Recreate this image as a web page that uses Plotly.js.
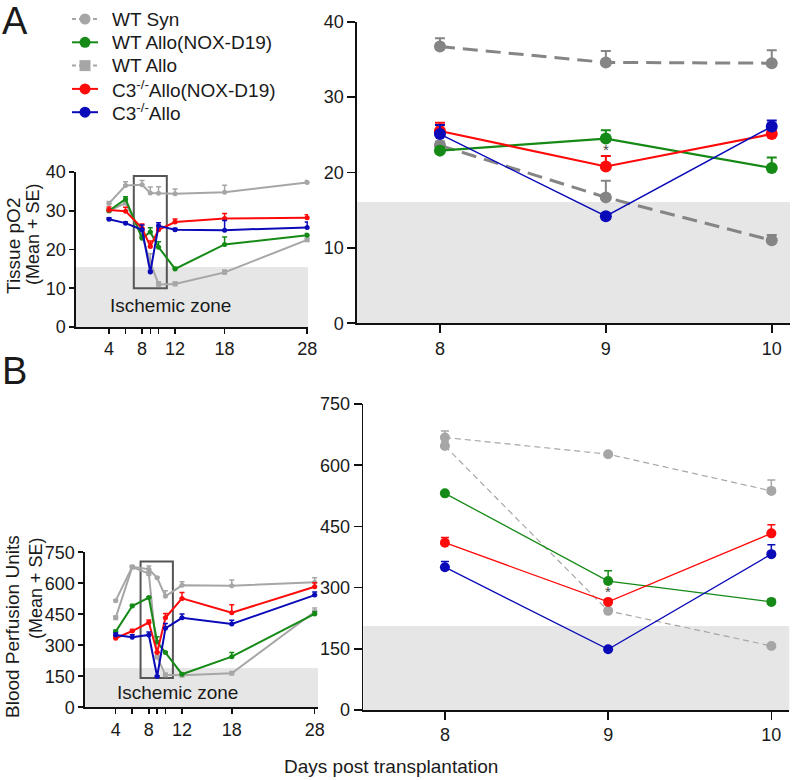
<!DOCTYPE html>
<html>
<head>
<meta charset="utf-8">
<script src="https://cdn.plot.ly/plotly-3.0.1.min.js"></script>
<style>html,body{margin:0;padding:0;background:#fff;}#chart{width:796px;height:780px;}</style>
</head>
<body>
<div id="chart"></div>
<script>
// ---- Data ----
const days = [4, 6, 8, 9, 10, 12, 18, 28];
const labeledDays = [4, 8, 12, 18, 28];
const zoomDays = [8, 9, 10];
const seriesNames = ['WT Syn', 'WT Allo(NOX-D19)', 'WT Allo', 'C3<sup>-/-</sup>Allo(NOX-D19)', 'C3<sup>-/-</sup>Allo'];

// Panel A: Tissue pO2
const wtSynA      = [31.9, 36.5, 36.7, 34.6, 34.5, 34.4, 34.8, 37.3];
const wtSynA_se   = [0.5, 1.0, 1.1, 1.5, 1.7, 1.2, 1.8, 0.5];
const wtAlloA     = [30.0, 32.0, 23.6, 16.7, 11.0, 11.1, 14.1, 22.5];
const wtAlloA_se  = [0.6, 0.8, 0.5, 2.2, 0.7, 0.5, 0.6, 0.4];
const noxA        = [30.0, 33.0, 22.9, 24.5, 20.6, 15.0, 21.3, 23.7];
const noxA_se     = [0.4, 0.6, 0.4, 1.1, 1.4, 0.4, 1.9, 0.4];
const c3noxA      = [30.2, 29.9, 25.5, 20.8, 25.1, 27.1, 28.0, 28.2];
const c3noxA_se   = [0.8, 1.0, 1.1, 1.4, 0.4, 0.8, 1.3, 0.8];
const c3A         = [27.8, 26.8, 25.1, 14.2, 26.1, 25.1, 25.0, 25.7];
const c3A_se      = [0.4, 0.3, 1.2, 0.4, 0.8, 0.4, 2.5, 1.4];

// Panel B: Blood perfusion units
const wtSynB      = [516, 680, 668, 627, 537, 590, 588, 605];
const wtSynB_se   = [5, 5, 16, 4, 27, 18, 28, 22];
const wtAlloB     = [433, 678, 647, 243, 157, 155, 165, 462];
const wtAlloB_se  = [8, 5, 10, 4, 4, 4, 4, 18];
const noxB        = [366, 490, 531, 316, 265, 160, 245, 452];
const noxB_se     = [8, 8, 4, 25, 4, 4, 20, 10];
const c3noxB      = [334, 369, 410, 265, 433, 527, 458, 583];
const c3noxB_se   = [8, 8, 13, 4, 21, 28, 38, 20];
const c3B         = [350, 339, 350, 149, 382, 433, 403, 543];
const c3B_se      = [10, 12, 14, 4, 23, 18, 18, 15];

const ischemicA_small = 15.5, ischemicA_zoom = 16.1;
const ischemicB_small = 190, ischemicB_zoom = 206;

// ---- Styles ----
const FONT = 'Arial, "Liberation Sans", Helvetica, sans-serif';
const GRAY_L = '#a6a6a6', GRAY_D = '#858585';
const GREEN = '#168a16', RED = '#ff0a0a', BLUE = '#0a0ab8';
const TXT = '#1a1a1a';

const zIdx = zoomDays.map(d => days.indexOf(d));
const sub = arr => zIdx.map(i => arr[i]);
const zeros = n => new Array(n).fill(0);

const traces = [];

function smallSet(xa, ya, list) {
  list.forEach(s => traces.push({
    type: 'scatter', mode: 'lines+markers', x: days, y: s.y, xaxis: xa, yaxis: ya,
    showlegend: false, hoverinfo: 'skip', cliponaxis: false,
    line: {color: s.color, width: 2},
    marker: {color: s.color, size: 5, symbol: s.symbol || 'circle'},
    error_y: {type: 'data', symmetric: false, array: s.se, arrayminus: zeros(s.se.length),
              color: s.color, thickness: 1.5, width: 2.5}
  }));
}
function zoomSet(xa, ya, list, opt) {
  list.forEach(s => traces.push({
    type: 'scatter', mode: 'lines+markers', x: zoomDays, y: sub(s.y), xaxis: xa, yaxis: ya,
    showlegend: false, hoverinfo: 'skip', cliponaxis: false,
    line: {color: s.color, width: s.width, dash: s.dash || 'solid'},
    marker: {color: s.color, size: opt.msize, symbol: 'circle'},
    error_y: {type: 'data', symmetric: false, array: sub(s.se), arrayminus: zeros(3),
              color: s.color, thickness: opt.ethick, width: opt.ewidth}
  }));
}

smallSet('x', 'y', [
  {y: wtSynA, se: wtSynA_se, color: GRAY_L},
  {y: wtAlloA, se: wtAlloA_se, color: GRAY_L, symbol: 'square'},
  {y: noxA, se: noxA_se, color: GREEN},
  {y: c3noxA, se: c3noxA_se, color: RED},
  {y: c3A, se: c3A_se, color: BLUE}
]);
zoomSet('x2', 'y2', [
  {y: wtSynA, se: wtSynA_se, color: GRAY_D, width: 3, dash: '15px,8px'},
  {y: wtAlloA, se: wtAlloA_se, color: GRAY_D, width: 3, dash: '15px,8px'},
  {y: noxA, se: noxA_se, color: GREEN, width: 2.2},
  {y: c3noxA, se: c3noxA_se, color: RED, width: 2.2},
  {y: c3A, se: c3A_se, color: BLUE, width: 1.5}
], {msize: 12, ethick: 2, ewidth: 5});
smallSet('x3', 'y3', [
  {y: wtSynB, se: wtSynB_se, color: GRAY_L},
  {y: wtAlloB, se: wtAlloB_se, color: GRAY_L, symbol: 'square'},
  {y: noxB, se: noxB_se, color: GREEN},
  {y: c3noxB, se: c3noxB_se, color: RED},
  {y: c3B, se: c3B_se, color: BLUE}
]);
zoomSet('x4', 'y4', [
  {y: wtSynB, se: wtSynB_se, color: GRAY_L, width: 1.2, dash: '6px,4px'},
  {y: wtAlloB, se: wtAlloB_se, color: GRAY_L, width: 1.2, dash: '6px,4px'},
  {y: noxB, se: noxB_se, color: GREEN, width: 1.3},
  {y: c3noxB, se: c3noxB_se, color: RED, width: 1.3},
  {y: c3B, se: c3B_se, color: BLUE, width: 1.3}
], {msize: 10, ethick: 1.5, ewidth: 4});

// ---- Layout ----
const W = 796, H = 780;
const px = v => v / W, py = v => 1 - v / H;
const dx = (a, b) => [a / W, b / W];
const dy = (top, bottom) => [1 - bottom / H, 1 - top / H];
const tickFont = {family: FONT, size: 18, color: TXT};
const baseAxis = {
  showgrid: false, zeroline: false, showline: true, linecolor: '#111', linewidth: 1.6,
  ticks: 'outside', tickcolor: '#111', tickwidth: 1.6, tickfont: tickFont, fixedrange: true
};
const smallXTicks = {
  tickmode: 'array', tickvals: labeledDays,
  minor: {tickmode: 'array', tickvals: days.filter(d => !labeledDays.includes(d)), ticks: 'outside', ticklen: 5, tickwidth: 1.6, tickcolor: '#111', showgrid: false}
};

const shapes = [
  {type: 'rect', layer: 'below', xref: 'x domain', yref: 'y', x0: 0, x1: 1, y0: 0, y1: ischemicA_small, fillcolor: '#e6e6e6', line: {width: 0}},
  {type: 'rect', layer: 'below', xref: 'x', yref: 'y', x0: 7, x1: 11, y0: 10, y1: 39, fillcolor: 'rgba(0,0,0,0)', line: {color: '#555', width: 2}},
  {type: 'rect', layer: 'below', xref: 'x2 domain', yref: 'y2', x0: 0, x1: 1, y0: 0, y1: ischemicA_zoom, fillcolor: '#e6e6e6', line: {width: 0}},
  {type: 'rect', layer: 'below', xref: 'x3 domain', yref: 'y3', x0: 0, x1: 1, y0: 0, y1: ischemicB_small, fillcolor: '#e6e6e6', line: {width: 0}},
  {type: 'rect', layer: 'below', xref: 'x3', yref: 'y3', x0: 7, x1: 10.9, y0: 142, y1: 705, fillcolor: 'rgba(0,0,0,0)', line: {color: '#555', width: 2}},
  {type: 'rect', layer: 'below', xref: 'x4 domain', yref: 'y4', x0: 0, x1: 1, y0: 0, y1: ischemicB_zoom, fillcolor: '#e6e6e6', line: {width: 0}}
];

const annotations = [];
const ann = (text, x, y, size, extra) => annotations.push(Object.assign({
  text, xref: 'paper', yref: 'paper', x: px(x), y: py(y), xanchor: 'center', yanchor: 'middle',
  showarrow: false, font: {family: FONT, size, color: TXT}
}, extra || {}));

// Manual legend (key swatches + labels)
const legendDefs = [
  {color: GRAY_L, dash: '4px,3px', symbol: 'circle'},
  {color: GREEN, dash: 'solid', symbol: 'circle'},
  {color: GRAY_L, dash: '4px,3px', symbol: 'square'},
  {color: RED, dash: 'solid', symbol: 'circle'},
  {color: BLUE, dash: 'solid', symbol: 'circle'}
];
const legendY0 = 19, legendStep = 23.3;
legendDefs.forEach((d, i) => {
  const yy = legendY0 + i * legendStep;
  shapes.push({type: 'line', xref: 'paper', yref: 'paper', x0: px(72), x1: px(98), y0: py(yy), y1: py(yy),
               line: {color: d.color, width: 2, dash: d.dash}});
  shapes.push({type: d.symbol === 'square' ? 'rect' : 'circle', xref: 'paper', yref: 'paper',
               x0: px(85 - 5.5), x1: px(85 + 5.5), y0: py(yy - 5.5), y1: py(yy + 5.5),
               fillcolor: d.color, line: {width: 0}});
  ann(seriesNames[i], 110, yy, 19, {xanchor: 'left'});
});

ann('A', 15, 21, 38);
ann('B', 15, 371, 38);
ann('Ischemic zone', 170, 306, 19);
ann('Ischemic zone', 177, 692, 19);
ann('Tissue pO2', 13, 246, 19, {textangle: -90});
ann('(Mean + SE)', 33, 234, 18, {textangle: -90});
ann('Blood Perfusion Units', 12, 627, 19, {textangle: -90});
ann('(Mean + SE)', 36, 588, 18, {textangle: -90});
ann('Days post transplantation', 391, 766, 19);
annotations.push({text: '*', xref: 'x2', yref: 'y2', x: 9, y: 23.0, showarrow: false, xanchor: 'center', yanchor: 'middle', font: {family: FONT, size: 15, color: '#444'}});
annotations.push({text: '*', xref: 'x4', yref: 'y4', x: 9, y: 290, showarrow: false, xanchor: 'center', yanchor: 'middle', font: {family: FONT, size: 15, color: '#444'}});

const layout = {
  width: W, height: H,
  margin: {l: 0, r: 0, t: 0, b: 0},
  paper_bgcolor: '#fff', plot_bgcolor: 'rgba(0,0,0,0)',
  font: {family: FONT, color: TXT},
  showlegend: false,
  xaxis: Object.assign({}, baseAxis, smallXTicks, {domain: dx(76, 308), range: [0, 28.1], anchor: 'y', ticklen: 5}),
  yaxis: Object.assign({}, baseAxis, {domain: dy(172, 327), range: [0, 40], anchor: 'x', tickvals: [0, 10, 20, 30, 40], ticklen: 5}),
  xaxis2: Object.assign({}, baseAxis, {domain: dx(357, 790), range: [7.5, 10.11], anchor: 'y2', tickvals: zoomDays, ticklen: 8}),
  yaxis2: Object.assign({}, baseAxis, {domain: dy(21.7, 323.3), range: [0, 40], anchor: 'x2', tickvals: [0, 10, 20, 30, 40], ticklen: 8}),
  xaxis3: Object.assign({}, baseAxis, smallXTicks, {domain: dx(85, 318), range: [0.3, 28.4], anchor: 'y3', ticklen: 5}),
  yaxis3: Object.assign({}, baseAxis, {domain: dy(552.3, 707.3), range: [0, 750], anchor: 'x3', tickvals: [0, 150, 300, 450, 600, 750], ticklen: 5}),
  xaxis4: Object.assign({}, baseAxis, {domain: dx(363.3, 789.3), range: [7.5, 10.11], anchor: 'y4', tickvals: zoomDays, ticklen: 8}),
  yaxis4: Object.assign({}, baseAxis, {domain: dy(404, 710), range: [0, 750], anchor: 'x4', tickvals: [0, 150, 300, 450, 600, 750], ticklen: 8}),
  shapes, annotations
};

Plotly.newPlot('chart', traces, layout, {staticPlot: true, displayModeBar: false});
</script>
</body>
</html>
